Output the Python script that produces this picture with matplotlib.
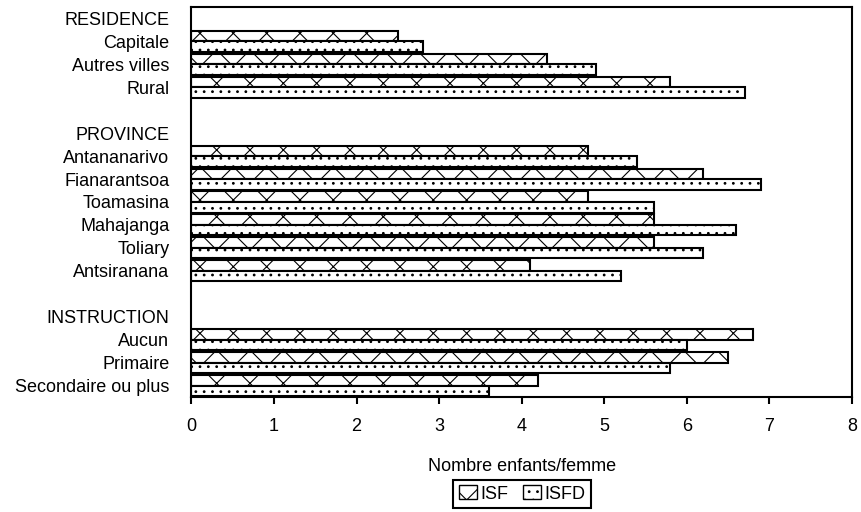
import numpy as np
import matplotlib
matplotlib.use("Agg")
import matplotlib.pyplot as plt
from matplotlib.patches import Patch

plt.rcParams["font.family"] = ["Liberation Sans", "DejaVu Sans"]
plt.rcParams["hatch.linewidth"] = 0.8

# données : ISF et ISFD par groupe
residence = ["Capitale", "Autres villes", "Rural"]
isf_residence = [2.5, 4.3, 5.8]
isfd_residence = [2.8, 4.9, 6.7]

province = ["Antananarivo", "Fianarantsoa", "Toamasina", "Mahajanga", "Toliary", "Antsiranana"]
isf_province = [4.8, 6.2, 4.8, 5.6, 5.6, 4.1]
isfd_province = [5.4, 6.9, 5.6, 6.6, 6.2, 5.2]

instruction = ["Aucun", "Primaire", "Secondaire ou plus"]
isf_instruction = [6.8, 6.5, 4.2]
isfd_instruction = [6.0, 5.8, 3.6]

groups = [
    ("RESIDENCE", residence, isf_residence, isfd_residence),
    ("PROVINCE", province, isf_province, isfd_province),
    ("INSTRUCTION", instruction, isf_instruction, isfd_instruction),
]

# construction des lignes (titre de groupe + catégories + ligne vide)
labels, pos, isf, isfd = [], [], [], []
row = 0
for i, (title, cats, v1, v2) in enumerate(groups):
    labels.append(title)
    row += 1
    for c, a, b in zip(cats, v1, v2):
        labels.append(c)
        pos.append(row)
        isf.append(a)
        isfd.append(b)
        row += 1
    if i < len(groups) - 1:
        labels.append("")
        row += 1

pos = np.array(pos)
h = 0.46

fig = plt.figure(figsize=(8.62, 5.12), dpi=100)
ax = fig.add_axes([191.5 / 862, 1 - 397 / 512, (852 - 191.5) / 862, 390 / 512])

ax.barh(pos - h / 2, isf, height=h, color="white", edgecolor="black",
        linewidth=1.5, hatch="x", label="ISF")
ax.barh(pos + h / 2, isfd, height=h, color="white", edgecolor="black",
        linewidth=1.5, hatch="..", label="ISFD")

ax.set_ylim(len(labels) - 0.5, -0.5)
ax.set_yticks(range(len(labels)))
ax.set_yticklabels(labels, fontsize=13)
ax.tick_params(axis="y", length=0, pad=16)

ax.set_xlim(0, 8)
ax.set_xticks(range(9))
ax.tick_params(axis="x", direction="out", length=5, width=1.5, labelsize=13, pad=10)
ax.set_xlabel("Nombre enfants/femme", fontsize=13, labelpad=17)

for s in ax.spines.values():
    s.set_linewidth(1.5)

handles = [Patch(facecolor="white", edgecolor="black", hatch="x", label="ISF"),
           Patch(facecolor="white", edgecolor="black", hatch="..", label="ISFD")]
leg = fig.legend(handles=handles, loc="lower center", ncol=2,
                 bbox_to_anchor=(522 / 862, 4 / 512), borderaxespad=0, fontsize=13,
                 handlelength=1.0, handleheight=0.8, handletextpad=0.2,
                 columnspacing=0.8, borderpad=0.3, fancybox=False,
                 edgecolor="black", framealpha=1)
leg.get_frame().set_linewidth(1.5)

fig.savefig("out.png", dpi=100)
